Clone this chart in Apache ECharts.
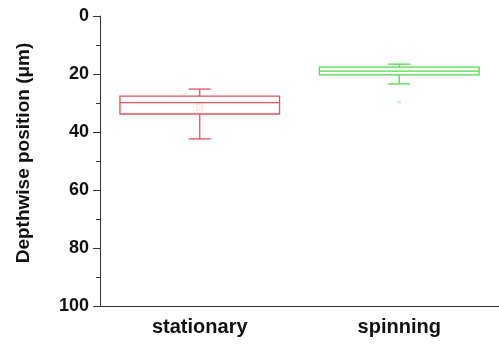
<!DOCTYPE html>
<html><head><meta charset="utf-8">
<script src="https://cdn.jsdelivr.net/npm/echarts@6/dist/echarts.min.js"></script>
<style>html,body{margin:0;padding:0;background:#fff}#c{width:499px;height:345px}</style>
</head><body><div id="c"></div>
<script>
var categories = ['stationary', 'spinning'];
// [whiskerLow, q1, median, q3, whiskerHigh, mean]
var stationary = [25.2, 27.6, 29.9, 33.8, 42.4, 31.4];
var spinning = [16.6, 17.6, 19.0, 20.3, 23.4, 19.2];
var outliers = [[1, 29.7]];
var colors = ['#e8505c', '#4cdc4c'];
var yTicks = [0, 20, 40, 60, 80, 100];

var chart = echarts.init(document.getElementById('c'));
var boxData = [stationary, spinning].map(function (d, i) { return [i].concat(d); });

function renderBox(params, api) {
  var idx = api.value(0);
  var col = colors[idx];
  var band = api.size([1, 0])[0];
  var bw = band * 0.8;
  var cap = 22;
  var x = api.coord([idx, 0])[0];
  var yLow = api.coord([idx, api.value(1)])[1];
  var yQ1 = api.coord([idx, api.value(2)])[1];
  var yMed = api.coord([idx, api.value(3)])[1];
  var yQ3 = api.coord([idx, api.value(4)])[1];
  var yHigh = api.coord([idx, api.value(5)])[1];
  var yMean = api.coord([idx, api.value(6)])[1];
  var st = { stroke: col, lineWidth: 1.3, fill: null };
  return {
    type: 'group',
    children: [
      { type: 'line', shape: { x1: x, y1: yLow, x2: x, y2: yQ1 }, style: st },
      { type: 'line', shape: { x1: x, y1: yQ3, x2: x, y2: yHigh }, style: st },
      { type: 'line', shape: { x1: x - cap / 2, y1: yLow, x2: x + cap / 2, y2: yLow }, style: st },
      { type: 'line', shape: { x1: x - cap / 2, y1: yHigh, x2: x + cap / 2, y2: yHigh }, style: st },
      { type: 'rect', shape: { x: x - bw / 2, y: Math.min(yQ1, yQ3), width: bw, height: Math.abs(yQ3 - yQ1) }, style: { stroke: col, lineWidth: 1.3, fill: 'rgba(0,0,0,0)' } },
      { type: 'line', shape: { x1: x - bw / 2, y1: yMed, x2: x + bw / 2, y2: yMed }, style: st },
      { type: 'rect', shape: { x: x - 3, y: yMean - 3, width: 6, height: 6 }, style: { stroke: col, lineWidth: 0.8, fill: 'rgba(0,0,0,0)', opacity: 0.3 } }
    ]
  };
}

chart.setOption({
  animation: false,
  grid: { left: 100, right: 0, top: 16, bottom: 39 },
  xAxis: {
    type: 'category', data: categories, position: 'bottom',
    axisLine: { onZero: false, lineStyle: { color: '#333', width: 1 } },
    axisTick: { alignWithLabel: true, length: 5, lineStyle: { color: '#333' } },
    axisLabel: { color: '#111', fontSize: 20, fontWeight: 'bold', fontFamily: 'Liberation Sans, Arial', margin: 11 },
    splitLine: { show: false }
  },
  yAxis: {
    type: 'value', inverse: true, min: 0, max: 100, interval: 20,
    name: 'Depthwise position (μm)', nameLocation: 'middle', nameGap: 67,
    nameTextStyle: { color: '#111', fontSize: 19, fontWeight: 'bold', fontFamily: 'Liberation Sans, Arial', padding: [0, 0, 0, 16] },
    axisLine: { show: true, onZero: false, lineStyle: { color: '#333', width: 1 } },
    axisTick: { show: true, length: 7, lineStyle: { color: '#333' } },
    minorTick: { show: true, splitNumber: 2, length: 4, lineStyle: { color: '#333' } },
    axisLabel: { color: '#111', fontSize: 18, fontWeight: 'bold', fontFamily: 'Liberation Sans, Arial', margin: 11,
      customValues: yTicks },
    splitLine: { show: false }
  },
  series: [
    { type: 'custom', renderItem: renderBox, data: boxData, encode: { x: 0, y: [1, 2, 3, 4, 5] } },
    { type: 'scatter', data: outliers, symbol: 'rect', symbolSize: 3,
      itemStyle: { color: colors[1], opacity: 0.35 } }
  ]
});
</script></body></html>
